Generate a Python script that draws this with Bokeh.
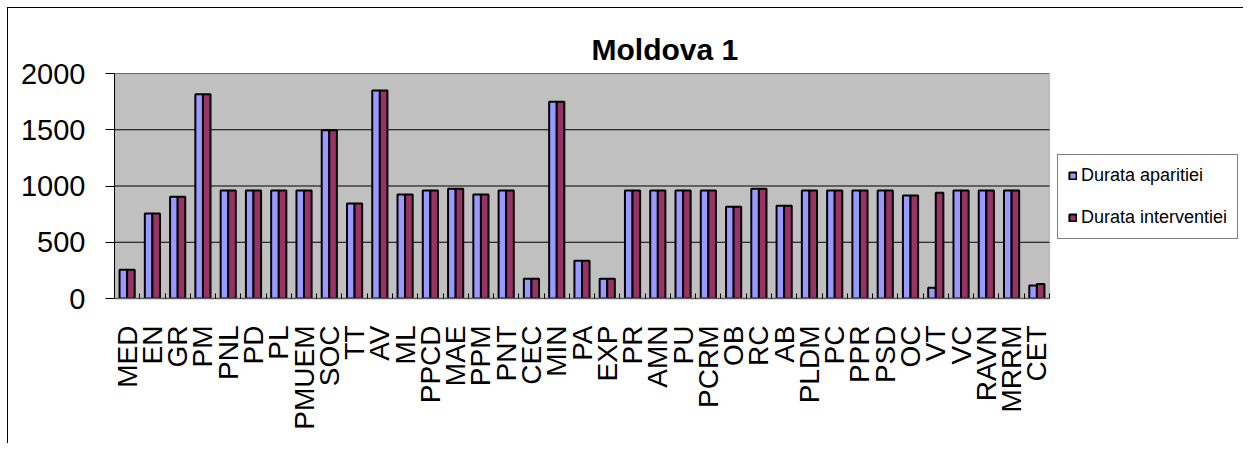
import math
from bokeh.plotting import figure
from bokeh.models import (FixedTicker, Range1d, Legend, LegendItem, ColumnDataSource,
                          BoxAnnotation)
from bokeh.transform import dodge
from bokeh.embed import file_html
from bokeh.resources import INLINE

categories = ["MED", "EN", "GR", "PM", "PNL", "PD", "PL", "PMUEM", "SOC", "TT",
              "AV", "ML", "PPCD", "MAE", "PPM", "PNT", "CEC", "MIN", "PA", "EXP",
              "PR", "AMN", "PU", "PCRM", "OB", "RC", "AB", "PLDM", "PC", "PPR",
              "PSD", "OC", "VT", "VC", "RAVN", "MRRM", "CET"]
aparitiei = [255, 755, 905, 1815, 960, 960, 960, 960, 1495, 845,
             1850, 925, 960, 975, 925, 960, 175, 1750, 335, 175,
             960, 960, 960, 960, 815, 975, 825, 960, 960, 960,
             960, 915, 95, 960, 960, 960, 115]
interventiei = [255, 755, 905, 1815, 960, 960, 960, 960, 1495, 845,
                1850, 925, 960, 975, 925, 960, 175, 1750, 335, 175,
                960, 960, 960, 960, 815, 975, 825, 960, 960, 960,
                960, 915, 940, 960, 960, 960, 130]
series_names = ["Durata aparitiei", "Durata interventiei"]
series_colors = ["#9999FF", "#993366"]
y_ticks = [0, 500, 1000, 1500, 2000]
y_max = 2000
title_text = "Moldova 1"

n = len(categories)
centers = [i + 0.5 for i in range(n)]
src = ColumnDataSource(dict(cat=categories, x=centers, a=aparitiei, b=interventiei))

FONT = "Liberation Sans"

# frame spans plot area + legend zone; the gray plot area covers 0..n only
FRAME_W = 1130
PLOT_W = 935
p = figure(width=1236, height=436, output_backend="svg", toolbar_location=None,
           x_range=Range1d(0, n * FRAME_W / PLOT_W), y_range=Range1d(0, y_max),
           min_border_left=106, min_border_top=65, min_border_right=0,
           min_border_bottom=146,
           background_fill_color="white", border_fill_color="white")
p.styles = {"border-left": "1px solid black", "border-top": "1px solid black",
            "margin-left": "7px", "margin-top": "7px"}
p.outline_line_color = None
p.xgrid.visible = False
p.ygrid.visible = False

p.add_layout(BoxAnnotation(left=0, right=n, bottom=0, top=y_max,
                           fill_color="#C0C0C0", fill_alpha=1,
                           line_color="#808080", line_width=1.5, level="underlay"))

grid_src = ColumnDataSource(dict(y=y_ticks[1:]))
p.segment(x0=0, x1=n, y0="y", y1="y", source=grid_src, line_color="black", line_width=1)

r1 = p.vbar(x=dodge("x", -0.15), top="a", width=0.3, source=src,
            fill_color=series_colors[0], line_color="black", line_width=2)
r2 = p.vbar(x=dodge("x", 0.15), top="b", width=0.3, source=src,
            fill_color=series_colors[1], line_color="black", line_width=2)

# y axis
p.yaxis.ticker = FixedTicker(ticks=y_ticks)
p.yaxis.major_tick_in = 0
p.yaxis.major_tick_out = 9
p.yaxis.minor_tick_line_color = None
p.yaxis.major_tick_line_color = "black"
p.yaxis.axis_line_color = "black"
p.yaxis.major_label_standoff = 20
p.yaxis.major_label_text_font = FONT
p.yaxis.major_label_text_font_size = "29px"
p.yaxis.major_label_text_color = "black"

# x axis
p.xaxis.bounds = (0, n)
p.xaxis.ticker = FixedTicker(ticks=centers, minor_ticks=list(range(n + 1)))
p.xaxis.major_label_overrides = {c: cat for c, cat in zip(centers, categories)}
p.xaxis.major_tick_line_color = None
p.xaxis.minor_tick_in = 5
p.xaxis.minor_tick_out = 0
p.xaxis.minor_tick_line_color = "black"
p.xaxis.axis_line_color = "#606060"
p.xaxis.axis_line_width = 1.5
p.xaxis.major_label_orientation = math.pi / 2
p.xaxis.major_label_standoff = 21
p.xaxis.major_label_text_font = FONT
p.xaxis.major_label_text_font_size = "28px"
p.xaxis.major_label_text_color = "black"

# title
p.title.text = title_text
p.title.text_font = FONT
p.title.text_font_size = "30px"
p.title.text_font_style = "bold"
p.title.text_color = "black"
p.title.align = "left"
p.title.offset = 477
p.title.standoff = 16

legend = Legend(items=[LegendItem(label=series_names[0], renderers=[r1]),
                       LegendItem(label=series_names[1], renderers=[r2])],
                location=(943, 59))
legend.label_text_font = FONT
legend.label_text_font_size = "18px"
legend.label_text_color = "black"
legend.glyph_width = 9
legend.glyph_height = 9
legend.label_standoff = 4
legend.label_height = 20
legend.spacing = 21
legend.padding = 10
legend.margin = 0
legend.border_line_color = "black"
legend.border_line_width = 1
legend.background_fill_color = "white"
legend.background_fill_alpha = 1
p.add_layout(legend)

open("out.html", "w").write(file_html(p, INLINE))
